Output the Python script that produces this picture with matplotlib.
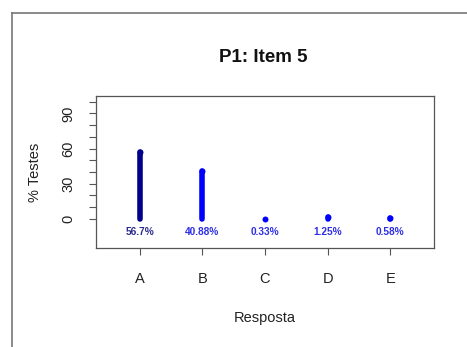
import matplotlib
matplotlib.use("Agg")
import matplotlib.pyplot as plt
from matplotlib.lines import Line2D

categories = ["A", "B", "C", "D", "E"]
values = [56.7, 40.88, 0.33, 1.25, 0.58]
labels = ["56.7%", "40.88%", "0.33%", "1.25%", "0.58%"]
colors = ["#00008B", "#0000FF", "#0000FF", "#0000FF", "#0000FF"]
yticks = [0, 30, 60, 90]
title = "P1: Item 5"

W, H = 467, 347
fig = plt.figure(figsize=(W / 100, H / 100), dpi=100)
plt.rcParams['font.family'] = ['Liberation Sans', 'DejaVu Sans']

ax = fig.add_axes([96 / W, 1 - 248 / H, (434 - 96) / W, (248 - 96) / H])
xs = list(range(1, len(categories) + 1))
for x, v, c in zip(xs, values, colors):
    ax.plot([x, x], [0, v], color=c, lw=4.0, solid_capstyle="round")
    ax.plot([x], [v], marker="o", ms=4.3, mew=0, color=c)
lab_colors = ["#2b2b8f", "#2f2fe6", "#2f2fe6", "#2f2fe6", "#2f2fe6"]
for x, lab, c in zip(xs, labels, lab_colors):
    ax.text(x, -11, lab, ha="center", va="center", fontsize=7.3, fontweight="bold", color=c)

ax.set_xlim(0.3, 5.7)
ax.set_ylim(-24.8, 104.8)
ax.set_xticks(xs)
ax.set_xticklabels(categories, fontsize=10.5, color="#222222")
ax.set_yticks(yticks)
ax.set_yticklabels([str(t) for t in yticks], rotation=90, va="center", fontsize=10.5, color="#222222")
ax.set_yticks(list(range(0, 101, 10)), minor=True)
ax.tick_params(axis="y", which="both", length=5, width=0.8, color="#555555", direction="out", pad=10)
ax.tick_params(axis="x", length=5, width=0.8, color="#555555", direction="out", pad=12)
for s in ax.spines.values():
    s.set_color("#555555")
    s.set_linewidth(0.9)
ax.set_xlabel("Resposta", fontsize=10.5, color="#222222", labelpad=18)
ax.set_ylabel("% Testes", fontsize=10.5, color="#222222", labelpad=14)
fig.text(263 / W, 1 - 57 / H, title, ha="center", va="center", fontsize=13.5, fontweight="bold", color="#111111")

fig.add_artist(Line2D([11.5 / W, 1], [1 - 12.5 / H, 1 - 12.5 / H], color="#777777", lw=1.2, transform=fig.transFigure))
fig.add_artist(Line2D([11.5 / W, 11.5 / W], [0, 1 - 12.5 / H], color="#777777", lw=1.2, transform=fig.transFigure))

fig.savefig("out.png", dpi=100)
